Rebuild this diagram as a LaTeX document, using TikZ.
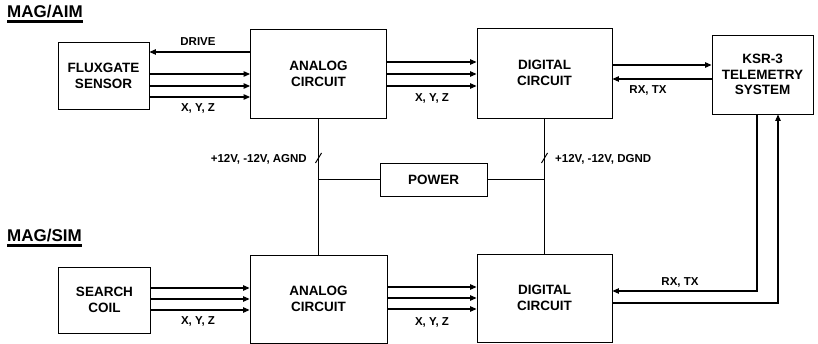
\documentclass[tikz,border=0pt]{standalone}
\usepackage{fontspec}
\setmainfont{Liberation Sans}
\usetikzlibrary{arrows.meta,calc}
\newcommand\myul[1]{\setbox0\hbox{#1}\rlap{\rule[-4.8pt]{\wd0}{2.4pt}}\box0}
\tikzset{
  box/.style={draw, line width=0.9pt, align=center, inner sep=0pt,
    font=\fontsize{13.5}{16}\selectfont\bfseries},
  lab/.style={font=\fontsize{11.5}{13}\selectfont\bfseries, inner sep=0pt},
  ttl/.style={font=\fontsize{17}{20}\selectfont\bfseries, inner sep=0pt, anchor=base west},
  wire/.style={line width=1.1pt},
  arr/.style={line width=1.1pt, -{Triangle[length=6.5pt,width=5.5pt]}},
  tick/.style={line width=1pt}
}
\begin{document}
\begin{tikzpicture}[x=1pt,y=-1pt]
\useasboundingbox (0,0) rectangle (818,344);
% titles
\node[ttl] (t1) at (7,18) {\myul{MAG/AIM}};
\node[ttl] (t2) at (7,242) {\myul{MAG/SIM}};
% boxes
\node[box, minimum width=91pt, minimum height=67pt] (flux) at (103.5,75.5) {FLUXGATE\\SENSOR};
\node[box, minimum width=136pt, minimum height=89pt] (anT) at (318.5,73.5) {ANALOG\\CIRCUIT};
\node[box, minimum width=135pt, minimum height=90pt] (dgT) at (544.5,73) {DIGITAL\\CIRCUIT};
\node[box, minimum width=101pt, minimum height=79pt, font=\fontsize{13.5}{15.5}\selectfont\bfseries] (ksr) at (762.5,74.5) {KSR-3\\TELEMETRY\\SYSTEM};
\node[box, minimum width=107pt, minimum height=33pt] (pw) at (433.5,179.5) {POWER};
\node[box, minimum width=92pt, minimum height=66pt] (sc) at (104.5,300) {SEARCH\\COIL};
\node[box, minimum width=137pt, minimum height=88pt] (anB) at (318.5,299) {ANALOG\\CIRCUIT};
\node[box, minimum width=135pt, minimum height=88pt] (dgB) at (544.5,298) {DIGITAL\\CIRCUIT};
% top row connectors
\draw[arr] (anT.west |- 0,52) -- (flux.east |- 0,52);
\foreach \y in {74,86,97} \draw[arr] (flux.east |- 0,\y) -- (anT.west |- 0,\y);
\foreach \y in {62,74,86} \draw[arr] (anT.east |- 0,\y) -- (dgT.west |- 0,\y);
\draw[arr] (dgT.east |- 0,65) -- (ksr.west |- 0,65);
\draw[arr] (ksr.west |- 0,79) -- (dgT.east |- 0,79);
\node[lab] (ldrive) at (198,42) {DRIVE};
\node[lab] (lxyz1) at (198,108) {X, Y, Z};
\node[lab] (lxyz2) at (432,98) {X, Y, Z};
\node[lab] (lrx1) at (648,90) {RX, TX};
% bottom row connectors
\foreach \y in {288,299,310} \draw[arr] (sc.east |- 0,\y) -- (anB.west |- 0,\y);
\foreach \y in {287,298,309} \draw[arr] (anB.east |- 0,\y) -- (dgB.west |- 0,\y);
\node[lab] (lxyz3) at (198,321) {X, Y, Z};
\node[lab] (lxyz4) at (432,322) {X, Y, Z};
% KSR to bottom digital
\coordinate (k1) at (757,291);
\coordinate (k2) at (778,303);
\draw[arr] (ksr.south -| k1) -- (k1) -- (dgB.east |- k1);
\draw[arr] (dgB.east |- k2) -- (k2) -- (ksr.south -| k2);
\node[lab] (lrx2) at (680,282) {RX, TX};
% power bus
\draw[wire] (anT.south) -- (anB.north);
\draw[wire] (dgT.south) -- (dgB.north);
\draw[wire] (pw.west) -- (pw.west -| anT.south);
\draw[wire] (pw.east) -- (pw.east -| dgT.south);
\coordinate (s1) at (318.5,158);
\coordinate (s2) at (544.5,158);
\draw[tick] ($(s1)+(-3,5)$) -- ($(s1)+(3,-5)$);
\draw[tick] ($(s2)+(-3,5)$) -- ($(s2)+(3,-5)$);
\node[lab, anchor=east] (lp1) at (307,159) {+12V, -12V, AGND};
\node[lab, anchor=west] (lp2) at (555,159) {+12V, -12V, DGND};
\end{tikzpicture}
\end{document}
